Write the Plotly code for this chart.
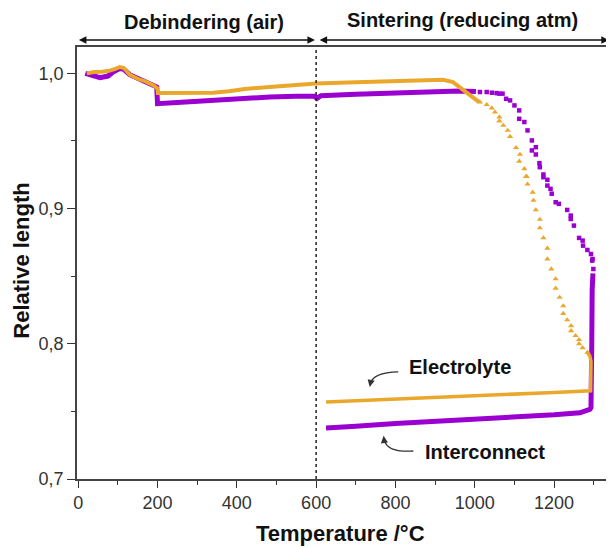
import plotly.graph_objects as go

# ---------------- data ----------------
# Electrolyte: heating (continuous), sintering shrinkage (sparse points), final step + cooling
elec_heat_T = [22, 40, 60, 80, 95, 105, 115, 130, 150, 170, 190, 200, 201, 250, 300, 340, 380, 420,
               483, 550, 600, 700, 800, 880, 920, 945, 961, 980, 995, 1011]
elec_heat_L = [1.000, 1.001, 1.0012, 1.002, 1.0035, 1.0047, 1.004, 0.999, 0.996, 0.994, 0.991, 0.9887,
               0.9855, 0.9855, 0.9858, 0.9856, 0.9868, 0.9885, 0.990, 0.9915, 0.9925, 0.9935, 0.9945,
               0.9953, 0.9952, 0.9935, 0.990, 0.986, 0.9825, 0.9787]
elec_sint_T = [1013, 1030, 1043, 1051, 1062, 1062, 1072, 1083, 1089, 1104, 1112, 1114, 1125, 1129, 1131,
               1133, 1146, 1148, 1154, 1164, 1164, 1173, 1183, 1183, 1193, 1204, 1204, 1214, 1223, 1223,
               1233, 1243, 1243, 1254, 1263, 1263, 1272, 1284]
elec_sint_L = [0.9788, 0.9768, 0.9743, 0.9713, 0.9677, 0.9647, 0.9615, 0.9578, 0.9533, 0.945, 0.935,
               0.940, 0.9294, 0.9237, 0.9237, 0.918, 0.912, 0.906, 0.899, 0.892, 0.8857, 0.8783, 0.8706,
               0.8627, 0.8553, 0.848, 0.841, 0.8343, 0.828, 0.8224, 0.8176, 0.8133, 0.8096, 0.806, 0.803,
               0.800, 0.797, 0.7936]
elec_cool_T = [1284, 1290, 1293, 1292, 1292, 1200, 1000, 800, 625]
elec_cool_L = [0.7936, 0.791, 0.787, 0.775, 0.7652, 0.7640, 0.7615, 0.7593, 0.7570]

# Interconnect
inter_heat_T = [18, 35, 55, 75, 88, 105, 115, 130, 150, 170, 190, 198, 200, 250, 300, 340, 400, 483,
                550, 595, 602, 612, 700, 800, 900, 961, 1003]
inter_heat_L = [1.000, 0.9985, 0.9968, 0.998, 1.001, 1.0035, 1.003, 0.999, 0.996, 0.9935, 0.991, 0.9899,
                0.9776, 0.9785, 0.9795, 0.9805, 0.9815, 0.9825, 0.983, 0.983, 0.9815, 0.9835, 0.9845,
                0.9855, 0.9865, 0.987, 0.9865]
inter_sint_T = [1013, 1030, 1043, 1055, 1062, 1070, 1079, 1089, 1100, 1112, 1112, 1125, 1133, 1144, 1144,
                1154, 1154, 1163, 1164, 1173, 1173, 1183, 1183, 1191, 1194, 1204, 1212, 1233, 1242, 1242,
                1250, 1263, 1272, 1273, 1284, 1293, 1297, 1296, 1299]
inter_sint_L = [0.9862, 0.9862, 0.9857, 0.9854, 0.985, 0.985, 0.9812, 0.980, 0.9763, 0.9726, 0.9664,
                0.964, 0.9578, 0.9504, 0.943, 0.9454, 0.940, 0.9336, 0.9306, 0.9252, 0.9232, 0.9213,
                0.917, 0.9146, 0.911, 0.9047, 0.9035, 0.899, 0.8948, 0.8923, 0.8874, 0.8783, 0.8763,
                0.8726, 0.8694, 0.8664, 0.8627, 0.8615, 0.8553]
inter_cool_T = [1298, 1296, 1295, 1294, 1293, 1290, 1280, 1265, 1200, 1100, 1000, 900, 800, 700, 625]
inter_cool_L = [0.852, 0.840, 0.800, 0.760, 0.7528, 0.7515, 0.7505, 0.749, 0.7475, 0.746, 0.7445,
                0.743, 0.741, 0.739, 0.7378]

x_ticks = [0, 200, 400, 600, 800, 1000, 1200]
x_tick_labels = ["0", "200", "400", "600", "800", "1000", "1200"]
y_ticks = [0.7, 0.8, 0.9, 1.0]
y_tick_labels = ["0,7", "0,8", "0,9", "1,0"]

ORANGE = "#E9A82B"
PURPLE = "#9A00CF"
FONT = "Liberation Sans, Arial, sans-serif"

fig = go.Figure()

# Interconnect (drawn first, under electrolyte)
fig.add_trace(go.Scatter(x=inter_heat_T, y=inter_heat_L, mode="lines",
                         line=dict(color=PURPLE, width=5), showlegend=False))
fig.add_trace(go.Scatter(x=inter_sint_T, y=inter_sint_L, mode="markers",
                         marker=dict(color=PURPLE, size=4.5, symbol="square"), showlegend=False))
fig.add_trace(go.Scatter(x=inter_cool_T, y=inter_cool_L, mode="lines",
                         line=dict(color=PURPLE, width=5), showlegend=False))

# Electrolyte
fig.add_trace(go.Scatter(x=elec_heat_T, y=elec_heat_L, mode="lines",
                         line=dict(color=ORANGE, width=4), showlegend=False))
fig.add_trace(go.Scatter(x=elec_sint_T, y=elec_sint_L, mode="markers",
                         marker=dict(color=ORANGE, size=5.5, symbol="triangle-up"), showlegend=False))
fig.add_trace(go.Scatter(x=elec_cool_T, y=elec_cool_L, mode="lines",
                         line=dict(color=ORANGE, width=3.5), showlegend=False))

shapes = [
    # dotted separator at 600 °C
    dict(type="line", xref="x", yref="paper", x0=600, x1=600, y0=0, y1=1,
         line=dict(color="#222", width=1.5, dash="dot")),
    # curved pointer for Electrolyte
    dict(type="path", xref="x", yref="y", path="M 807,0.7793 Q 742,0.7790 736,0.7700",
         line=dict(color="#333", width=1.3)),
    # curved pointer for Interconnect
    dict(type="path", xref="x", yref="y", path="M 845,0.7207 Q 778,0.7195 772,0.7290",
         line=dict(color="#333", width=1.3)),
]

annotations = [
    # top double arrows
    dict(x=597, y=1.016, xref="x", yref="paper", ax=-2, ay=0, axref="x", ayref="pixel",
         showarrow=True, arrowhead=2, startarrowhead=2, arrowside="end+start",
         arrowsize=1, arrowwidth=1.5, arrowcolor="#111", text=""),
    dict(x=1338, y=1.016, xref="x", yref="paper", ax=605, ay=0, axref="x", ayref="pixel",
         showarrow=True, arrowhead=2, startarrowhead=2, arrowside="end+start",
         arrowsize=1, arrowwidth=1.5, arrowcolor="#111", text=""),
    dict(x=318, y=1.058, xref="x", yref="paper", text="<b>Debindering (air)</b>", showarrow=False,
         font=dict(family=FONT, size=20, color="#111"), xanchor="center", yanchor="middle"),
    dict(x=968, y=1.062, xref="x", yref="paper", text="<b>Sintering (reducing atm)</b>", showarrow=False,
         font=dict(family=FONT, size=20, color="#111"), xanchor="center", yanchor="middle"),
    # series labels
    dict(x=962, y=0.7825, xref="x", yref="y", text="<b>Electrolyte</b>", showarrow=False,
         font=dict(family=FONT, size=20, color="#111"), xanchor="center", yanchor="middle"),
    dict(x=1025, y=0.7200, xref="x", yref="y", text="<b>Interconnect</b>", showarrow=False,
         font=dict(family=FONT, size=20, color="#111"), xanchor="center", yanchor="middle"),
    # arrowheads of curved pointers
    dict(x=735, y=0.7681, xref="x", yref="y", ax=1.5, ay=-7, showarrow=True, arrowhead=2,
         arrowsize=1.1, arrowwidth=1.3, arrowcolor="#333", text=""),
    dict(x=770, y=0.7319, xref="x", yref="y", ax=1, ay=8, showarrow=True, arrowhead=2,
         arrowsize=1.1, arrowwidth=1.3, arrowcolor="#333", text=""),
    # axis titles
    dict(x=0.493, y=-0.125, xref="paper", yref="paper", text="<b>Temperature /°C</b>", showarrow=False,
         font=dict(family=FONT, size=22, color="#111"), xanchor="center", yanchor="middle"),
    dict(x=-0.103, y=0.505, xref="paper", yref="paper", text="<b>Relative length</b>", showarrow=False,
         textangle=-90, font=dict(family=FONT, size=22, color="#111"), xanchor="center", yanchor="middle"),
]

# the page places the figure 8 px in from the top-left corner, so the figure is 8 px smaller
fig.update_layout(
    width=606, height=539,
    margin=dict(l=69, r=2, t=39, b=68),
    paper_bgcolor="white", plot_bgcolor="white",
    font=dict(family=FONT, color="#222"),
    shapes=shapes, annotations=annotations,
    showlegend=False,
)
fig.update_xaxes(
    range=[-3, 1346], tickvals=x_ticks, ticktext=x_tick_labels, automargin=False,
    ticks="outside", ticklen=7, tickwidth=1.3, tickcolor="#333",
    minor=dict(dtick=100, tick0=0, ticks="outside", ticklen=4, tickwidth=1.3, tickcolor="#333"),
    showline=True, linecolor="#444", linewidth=1.6, mirror=True, showgrid=False, zeroline=False,
    tickfont=dict(family=FONT, size=18, color="#333"),
)
fig.update_yaxes(
    range=[0.7, 1.0195], tickvals=y_ticks, ticktext=y_tick_labels, automargin=False,
    ticks="outside", ticklen=8, tickwidth=1.3, tickcolor="#333",
    minor=dict(dtick=0.05, tick0=0.7, ticks="outside", ticklen=4, tickwidth=1.3, tickcolor="#333"),
    showline=True, linecolor="#444", linewidth=1.6, mirror=True, showgrid=False, zeroline=False,
    tickfont=dict(family=FONT, size=18, color="#333"),
)

fig.write_html("out.html")
